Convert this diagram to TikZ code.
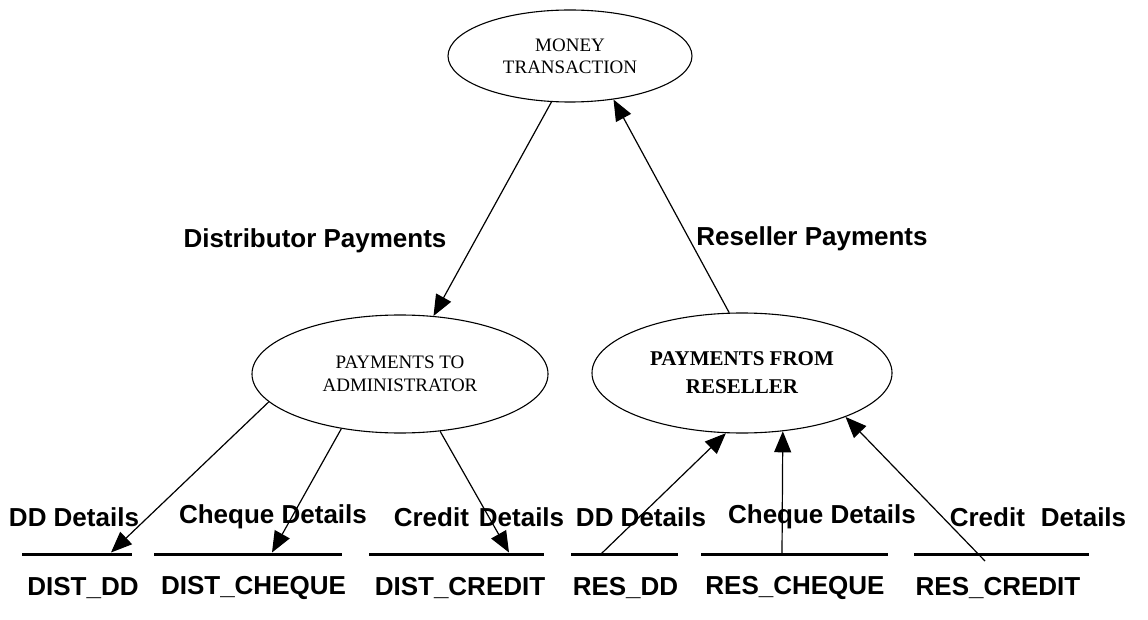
\documentclass[tikz,border=0pt]{standalone}
\usepackage{fontspec}
\setmainfont{Liberation Serif}
\newfontfamily\labelfont{Liberation Sans}
\usetikzlibrary{shapes.geometric,arrows.meta}
\begin{document}
\begin{tikzpicture}[x=1pt,y=-1pt,
  proc/.style={ellipse,draw,line width=1.1pt,inner sep=0pt,align=center},
  flow/.style={draw,line width=1.2pt,-{Triangle[length=21pt,width=17pt]}},
  storebar/.style={fill=black,draw=none,minimum height=3pt,inner sep=0pt},
  lbl/.style={font=\labelfont\bfseries\fontsize{26}{30}\selectfont,inner sep=0pt}]
\useasboundingbox (0,0) rectangle (1148,620);

% processes
\node[proc,minimum width=244pt,minimum height=92pt,font=\fontsize{19}{22}\selectfont] (money) at (570,56) {MONEY\\TRANSACTION};
\node[proc,minimum width=296pt,minimum height=118pt,font=\fontsize{19}{23}\selectfont] (admin) at (400,374) {PAYMENTS TO\\ADMINISTRATOR};
\node[proc,minimum width=300pt,minimum height=120pt,font=\bfseries\fontsize{21}{28}\selectfont] (resel) at (742,373) {PAYMENTS FROM\\RESELLER};

% data stores (bars with names underneath)
\node[storebar,minimum width=110pt] (ddbar) at (77,554) {};
\node[storebar,minimum width=188pt] (dcqbar) at (248,554) {};
\node[storebar,minimum width=175pt] (dcrbar) at (456.5,554) {};
\node[storebar,minimum width=107pt] (rddbar) at (624.5,554) {};
\node[storebar,minimum width=187pt] (rcqbar) at (794.5,554) {};
\node[storebar,minimum width=175pt] (rcrbar) at (1001.5,554) {};

\node[lbl] (ddname) at (83,588) {DIST\_DD};
\node[lbl] (dcqname) at (253.5,588) {DIST\_CHEQUE};
\node[lbl] (dcrname) at (460,588) {DIST\_CREDIT};
\node[lbl] (rddname) at (625.5,588) {RES\_DD};
\node[lbl] (rcqname) at (795,588) {RES\_CHEQUE};
\node[lbl] (rcrname) at (998,588) {RES\_CREDIT};

% connector ends on the store bars
\coordinate (ddin) at (111,552.5);
\coordinate (dcqin) at (272,552.5);
\coordinate (dcrin) at (509,552.5);
\coordinate (rddout) at (601,554);
\coordinate (rcqout) at (782,554);
\coordinate (rcrout) at (985,561);

% flows
\draw[flow] (money.-112.4) -- (admin.60.8);
\draw[flow] (resel.102.9) -- (money.-45);
\draw[flow] (admin.-168.3) -- (ddin);
\draw[flow] (admin.-137) -- (dcqin);
\draw[flow] (admin.-55.1) -- (dcrin);
\draw[flow] (rddout) -- (resel.-105.8);
\draw[flow] (rcqout) -- (resel.-55.2);
\draw[flow] (rcrout) -- (resel.-23.5);

% flow labels
\node[lbl] (distpay) at (315,241) {Distributor Payments};
\node[lbl] (respay) at (812,239) {Reseller Payments};
\node[lbl] (ddlab) at (74,517) {DD Details};
\node[lbl] (dcqlab) at (273,517) {Cheque Details};
\node[lbl] (dcrlab) at (479,517) {Credit\hspace{10pt}Details};
\node[lbl] (rddlab) at (641,517) {DD Details};
\node[lbl] (rcqlab) at (822,517) {Cheque Details};
\node[lbl] (rcrlab) at (1038,517) {Credit\hspace{16pt}Details};
\end{tikzpicture}
\end{document}
